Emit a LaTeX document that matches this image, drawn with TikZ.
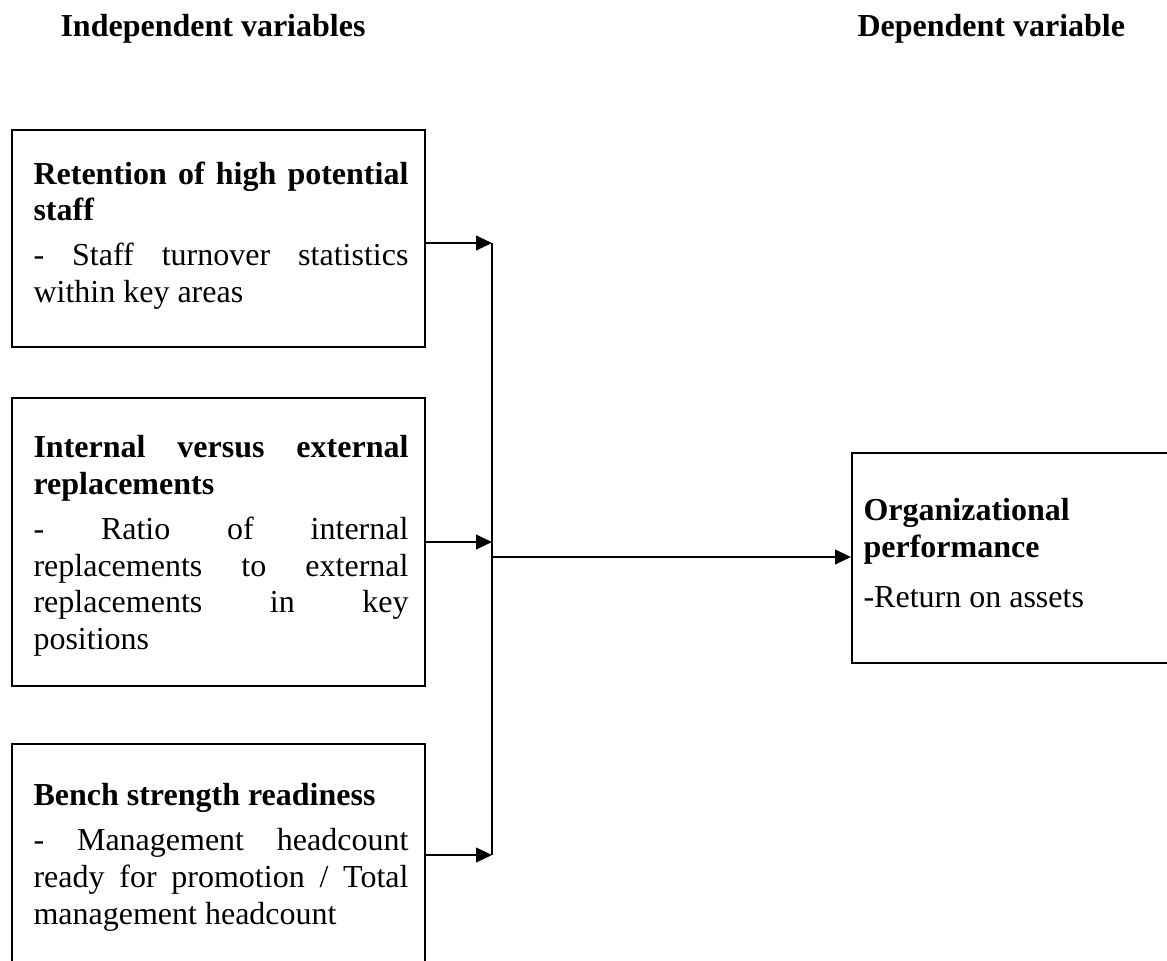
\documentclass[tikz,border=0pt]{standalone}
\usepackage{fontspec}
\setmainfont{Liberation Serif}
\usetikzlibrary{arrows.meta,calc}
\setlength\parindent{0pt}
\hyphenpenalty=10000
\exhyphenpenalty=10000
\tolerance=10000
\hbadness=10000
\begin{document}
\begin{tikzpicture}[x=0.375pt,y=-0.375pt,
  box/.style={draw,line width=0.8pt,inner sep=0pt,anchor=north west},
  txt/.style={inner sep=0pt,anchor=north west,text width=140.6pt,align=justify,
    font=\fontsize{12pt}{13.8pt}\selectfont},
  rtxt/.style={inner sep=0pt,anchor=north west,align=left,font=\fontsize{12pt}{13.8pt}\selectfont},
  head/.style={inner sep=0pt,anchor=west,font=\fontsize{12pt}{13.8pt}\selectfont\bfseries},
  conn/.style={line width=0.8pt},
  arr/.style={line width=0.8pt,-{Triangle[length=6pt,width=5.5pt]}}]
\clip (0,0) rectangle (1167,960);
% headers
\node[head] (hi) at (60,29) {Independent variables};
\node[head] (hd) at (857,29) {Dependent variable};
% boxes
\node[box,minimum width=154.9pt,minimum height=81.4pt] (b1) at (11,129) {};
\node[box,minimum width=154.9pt,minimum height=108pt] (b2) at (11,397) {};
\node[box,minimum width=154.9pt,minimum height=84pt] (b3) at (11,743) {};
\node[box,minimum width=130pt,minimum height=78.75pt] (b4) at (851,452) {};
% texts
\node[txt] (t1) at ($(b1.north west)+(22,32)$) {\textbf{Retention of high potential staff}\par\vspace{3pt}- Staff turnover statistics within key areas};
\node[txt] (t2) at ($(b2.north west)+(22,38)$) {\textbf{Internal versus external replacements}\par\vspace{3pt}- Ratio of internal replacements to external replacements in key\linebreak positions};
\node[txt] (t3) at ($(b3.north west)+(22,40)$) {\textbf{Bench strength readiness}\par\vspace{3pt}- Management headcount ready for promotion / Total management headcount};
\node[rtxt] (t4) at ($(b4.north west)+(12,46)$) {\textbf{Organizational}\\\textbf{performance}\\[5pt]-Return on assets};
% connectors
\coordinate (j1) at (492,243);
\coordinate (j2) at (492,542);
\coordinate (j3) at (492,855);
\coordinate (jo) at (492,557);
\draw[arr] (b1.east |- j1) -- (j1);
\draw[arr] (b2.east |- j2) -- (j2);
\draw[arr] (b3.east |- j3) -- (j3);
\draw[conn] (j1) -- (j3);
\draw[arr] (jo) -- (b4.west |- jo);
\end{tikzpicture}
\end{document}
